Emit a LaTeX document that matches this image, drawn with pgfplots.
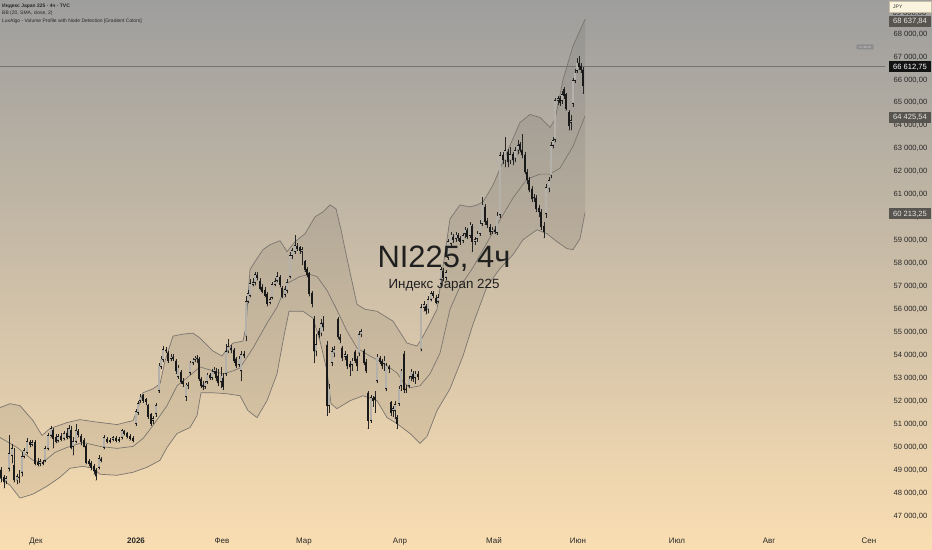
\documentclass[border=0pt]{standalone}
\usepackage{fontspec}
\setmainfont{Liberation Sans}
\usepackage{pgfplots}
\pgfplotsset{compat=1.18}
\usepackage{pgfplotstable}
\definecolor{bgtop}{RGB}{158,158,157}
\definecolor{bgbot}{RGB}{250,222,178}
\definecolor{bandline}{RGB}{122,117,110}
\definecolor{upfill}{RGB}{180,176,170}
\definecolor{tagbox}{RGB}{88,85,80}
\definecolor{txt}{RGB}{40,40,40}

\pgfplotstableread{
x o h l c
1 48991 49121 48471 48645
4 48688 48774 48212 48471
6 48515 48731 48385 48645
9 49078 50507 48948 49727
12 49640 50117 49294 49944
14 49207 49944 48471 48558
17 48558 48818 48385 48731
19 48688 48991 48428 48645
22 48904 49770 48731 49597
24 49597 49944 49511 49857
27 49770 50377 49684 50247
30 50203 50290 49987 50117
32 50117 50290 50030 50203
35 50203 50290 49207 49294
38 49337 49511 49164 49251
40 49294 49467 49164 49381
43 49337 49424 49207 49294
45 49424 50030 49337 49944
48 49944 50636 49857 50507
51 50507 50940 50420 50810
53 50723 50853 49944 50377
56 50420 50550 50160 50247
58 50290 50593 50203 50463
61 50463 50636 50247 50333
64 50377 50723 50290 50593
67 50593 50853 50333 50420
69 50463 50983 50377 50810
71 50723 50940 49900 49987
73 50030 50420 49640 50247
76 50247 51026 50160 50723
78 50680 50810 50420 50550
81 50463 50550 50074 50247
84 50290 50377 49987 50030
86 50030 50117 49251 49337
89 49381 49467 49164 49294
91 49294 49381 48991 49121
94 49164 49251 48818 48948
96 48991 49078 48558 48731
99 49121 49640 49034 49511
101 49467 49554 49337 49424
104 49987 50507 49900 50420
107 50333 50420 50160 50247
110 50247 50377 50160 50290
113 50333 50463 50247 50420
116 50377 50463 50203 50290
119 50290 50420 50203 50333
122 50420 50810 50333 50723
124 50680 50766 50507 50593
127 50593 50680 50377 50463
130 50463 50550 50290 50377
133 50377 50463 50203 50290
136 51026 51676 50940 51546
138 51502 52022 51416 51892
140 52022 52325 51935 52195
143 52239 52325 51935 52022
146 52065 52152 51849 51979
148 51806 51892 51242 51329
151 51416 51502 50940 51026
153 51156 51373 51026 51242
156 51459 51935 51329 51806
159 52455 53667 52369 53538
161 53494 53971 53408 53840
163 53797 54404 53711 54274
166 54230 54360 54100 54187
168 54100 54187 53667 53754
171 53840 54057 53754 53927
173 53927 54057 53754 53840
176 53754 53840 53191 53321
178 53061 53581 52975 53451
181 53278 53364 52758 52845
183 52888 53018 52628 52758
186 52195 52801 52022 52715
188 52715 52845 52542 52672
190 53234 53754 53148 53667
193 53667 53884 53581 53797
195 53797 53971 53711 53884
197 53884 54014 53667 53840
199 53840 53927 52888 52975
201 52975 53061 52585 52672
203 52715 52888 52498 52628
205 52628 52888 52542 52801
207 52845 53234 52758 53148
210 53148 53234 52931 53018
212 53018 53408 52931 53278
214 53278 53494 53191 53364
216 53321 53451 52888 53018
218 53105 53408 52672 52801
221 52845 53494 52585 53105
223 53018 53234 52498 52628
226 53191 54490 53105 54187
228 54187 54706 54100 54404
231 54317 54447 54100 54230
234 54230 54317 53667 53754
236 53840 53927 53451 53538
239 53581 53971 53494 53840
241 53321 54187 52888 54057
244 54057 54187 53884 53971
246 54837 56569 54620 56352
248 56352 56829 56265 56699
250 56612 57305 56525 57131
253 57088 57348 57002 57175
255 57175 57651 57045 57521
257 57478 57608 57261 57392
260 57218 57348 56828 56915
262 56958 57088 56699 56785
265 56828 56958 56525 56612
267 56655 56742 56135 56265
270 56309 56525 56222 56439
272 56525 57175 56439 57088
275 57088 57348 57002 57218
277 57261 57651 57175 57435
280 57392 57478 56958 57088
282 56915 57002 56482 56569
285 56655 57002 56525 56872
287 56828 57305 56699 57175
290 57435 58517 57348 58344
292 58344 58690 58214 58560
295 58517 59253 58430 58777
297 58734 58907 58560 58647
300 58690 58777 58430 58560
302 58517 58734 57954 58604
305 58084 58171 57651 57738
307 57738 57868 57392 57521
309 57565 57651 56569 56699
312 56699 56785 56092 56265
314 55573 55703 53667 54187
316 54187 54923 53971 54490
319 55053 55183 54750 54880
321 54966 55573 54836 55399
323 55399 55703 55053 55226
327 54447 54620 51373 51806
329 51806 52758 51502 52542
332 53667 54360 53538 54187
334 54100 54404 53927 54274
338 55573 55659 54706 54793
340 54793 54923 54533 54663
342 54317 54404 53754 53884
345 53927 54187 53797 54057
347 53971 54057 53408 53538
350 53624 53754 53105 53494
352 53581 53884 53321 53754
355 54144 54230 53667 53754
357 53840 53971 53321 53538
359 54100 55053 53971 54923
361 54923 55139 54793 55053
364 54187 54274 53581 53667
366 53711 53840 53234 53321
368 52369 52455 50810 51156
371 51156 52282 51069 52152
373 52109 52239 51762 52022
375 52195 52455 51502 52065
377 52888 54057 52801 53927
380 53884 53971 53624 53711
382 53754 53840 53408 53538
384 53624 53971 53321 53754
386 52542 53667 52455 53538
389 53494 53581 53234 53408
391 51935 52022 51373 51502
393 51589 51806 51329 51676
395 51589 52022 51242 51849
397 51286 51416 50810 51026
399 51892 52672 51806 52542
401 52672 53408 52455 53321
404 54057 54187 52369 52498
406 52542 52715 52369 52498
409 52672 53105 52585 52975
411 53061 53408 52888 53278
413 53191 53321 52845 52975
415 53018 53321 52758 53191
418 53191 53321 52931 53061
421 54274 56222 54187 56092
424 56092 56352 55919 56222
426 56135 56222 55789 55919
428 56006 56569 55832 56439
431 56439 56785 56352 56699
433 56699 56785 56482 56612
436 56482 56612 56222 56309
438 56352 56655 56265 56525
441 57131 57868 57002 57738
443 57651 57824 57218 57392
446 57392 57738 57261 57608
448 58257 59080 58171 58950
451 58863 59383 58734 59253
453 59166 59296 58907 59036
456 59080 59383 58950 59253
458 59210 59340 58993 59123
460 59080 59210 58820 58950
463 58993 59340 58907 59210
465 59296 59600 59123 59470
467 59470 59556 59080 59166
470 59210 59816 59123 59686
472 59643 59729 58517 58950
475 58950 59166 58820 59036
477 59080 59426 58950 59296
480 59296 59902 59210 59729
482 59729 60899 59643 60552
485 60465 60595 59686 59816
487 59859 59989 59556 59686
490 59599 59729 59253 59383
492 59383 59599 59296 59470
495 59470 59643 59296 59383
497 59340 60249 59253 60076
500 60119 62847 59989 62717
503 62717 62847 62327 62501
505 62501 63496 62197 62934
508 62847 62977 62197 62414
510 62501 63064 62327 62761
513 62761 62847 62284 62501
515 62587 63064 62414 62934
518 62934 63366 62761 63150
520 63193 63280 62847 62934
522 62934 63626 62587 62717
525 62717 62847 61894 61981
527 61981 62111 61462 61635
529 61635 61765 61115 61202
532 61245 61375 60682 60812
534 60855 61029 60682 60899
536 60855 60985 60249 60379
539 60422 60552 60033 60249
541 60249 60379 59470 59600
544 59643 59816 59123 59383
546 60162 61462 59989 61331
549 61288 61765 61115 61635
551 61851 63280 61721 63150
553 63150 63496 63020 63366
555 63410 65229 63280 65099
558 65099 65315 64925 65186
560 65186 65315 64882 65012
562 65099 65532 64969 65359
564 65575 65705 65186 65315
566 65359 65445 64666 64752
569 64579 64709 63800 64016
571 64146 64449 63800 64233
573 64969 66095 64839 65965
575 65965 66484 65878 66311
577 66398 66960 66311 66744
579 66744 67047 66441 66571
581 66614 66744 66311 66441
583 66441 66571 65402 65748
}\candles

\pgfplotstableread{
x p
0 51719
10 51892
20 51806
33 51156
42 50507
50 50810
67 51069
80 51199
93 51113
117 50983
133 51156
137 51589
143 52369
153 52542
160 52758
165 53754
173 54836
183 54923
193 54966
200 54750
213 54187
222 53971
227 54274
233 54533
243 54620
246 55270
250 57738
257 58214
263 58604
270 58820
280 58993
287 58517
295 58950
305 59296
315 60033
323 60249
330 60552
336 60379
341 59470
347 58214
357 56222
365 56006
377 55919
393 55486
407 54533
417 54404
422 54750
430 55399
437 56006
443 57868
450 59946
460 60552
470 60465
477 60552
483 60682
493 61418
507 62847
520 64146
530 64492
540 64362
550 63930
555 64276
563 66008
573 67480
585 68638
}\bbup

\pgfplotstableread{
x p
0 50420
17 49987
33 49424
43 49337
55 49770
67 49987
83 50203
100 50031
117 49944
133 50031
143 50377
153 50940
167 51806
177 52672
187 53018
200 53494
213 53321
223 53191
233 53321
240 53451
253 54317
267 55399
277 56092
287 57131
300 57435
310 57521
317 57435
327 56828
337 55963
347 55053
357 54317
370 53971
383 53667
397 53234
403 52845
410 52585
420 52672
430 53191
440 54100
450 56006
460 56995
473 57824
487 58907
500 59902
513 60855
527 61678
540 61895
550 61895
560 62154
573 63107
585 64426
}\bbmid

\pgfplotstableread{
x p
0 48645
10 48341
20 47779
33 47952
47 48298
60 48688
70 49078
83 49164
93 49078
100 48818
117 48774
133 48904
147 49121
160 49424
167 49987
177 50593
190 50853
197 51373
201 52369
213 52369
227 52325
240 52239
248 51589
257 51286
267 52022
277 53191
283 54620
289 55919
303 55919
313 55616
320 54620
327 53321
331 51892
337 51676
350 52022
363 52239
377 52022
387 51286
397 51026
410 50593
420 50160
427 50463
437 51589
450 52542
463 53971
473 55356
487 57002
500 57781
513 58387
523 59037
537 59470
547 59296
557 58950
567 58647
573 58604
580 59080
585 60213
}\bblo

% band area: upper band forward, lower band backward
\pgfplotstableread{
x p
0 51719
10 51892
20 51806
33 51156
42 50507
50 50810
67 51069
80 51199
93 51113
117 50983
133 51156
137 51589
143 52369
153 52542
160 52758
165 53754
173 54836
183 54923
193 54966
200 54750
213 54187
222 53971
227 54274
233 54533
243 54620
246 55270
250 57738
257 58214
263 58604
270 58820
280 58993
287 58517
295 58950
305 59296
315 60033
323 60249
330 60552
336 60379
341 59470
347 58214
357 56222
365 56006
377 55919
393 55486
407 54533
417 54404
422 54750
430 55399
437 56006
443 57868
450 59946
460 60552
470 60465
477 60552
483 60682
493 61418
507 62847
520 64146
530 64492
540 64362
550 63930
555 64276
563 66008
573 67480
585 68638
585 60213
580 59080
573 58604
567 58647
557 58950
547 59296
537 59470
523 59037
513 58387
500 57781
487 57002
473 55356
463 53971
450 52542
437 51589
427 50463
420 50160
410 50593
397 51026
387 51286
377 52022
363 52239
350 52022
337 51676
331 51892
327 53321
320 54620
313 55616
303 55919
289 55919
283 54620
277 53191
267 52022
257 51286
248 51589
240 52239
227 52325
213 52369
201 52369
197 51373
190 50853
177 50593
167 49987
160 49424
147 49121
133 48904
117 48774
100 48818
93 49078
83 49164
70 49078
60 48688
47 48298
33 47952
20 47779
10 48341
0 48645
}\bbarea

\begin{document}
\begin{tikzpicture}[x=1bp,y=1bp]
\useasboundingbox (0,0) rectangle (932,550);
\shade[top color=bgtop, bottom color=bgbot] (0,0) rectangle (932,550);
\begin{axis}[
  at={(0bp,550bp)}, anchor=north west,
  width=885bp, height=527bp, scale only axis,
  xmin=0, xmax=885, ymin=46520, ymax=69481,
  axis line style={draw=none},
  major tick length=0pt,
  ytick={47000,48000,...,68000},
  yticklabels={{47 000,00},{48 000,00},{49 000,00},{50 000,00},{51 000,00},{52 000,00},{53 000,00},{54 000,00},{55 000,00},{56 000,00},{57 000,00},{58 000,00},{59 000,00},{60 000,00},{61 000,00},{62 000,00},{63 000,00},{64 000,00},{65 000,00},{66 000,00},{67 000,00},{68 000,00}},
  yticklabel pos=right,
  yticklabel style={anchor=west, xshift=5bp, font=\fontsize{7.6}{9}\selectfont, text=txt},
  xtick={36,136,222,304,400,494,578,677,769,869},
  xticklabels={Дек,\textbf{2026},Фев,Мар,Апр,Май,Июн,Июл,Авг,Сен},
  xticklabel style={anchor=base, yshift=-17bp, font=\fontsize{8}{9.6}\selectfont, text=txt},
]
\addplot[fill=black, fill opacity=0.065, draw=none] table[x=x,y=p] {\bbarea} -- cycle;
\addplot[color=bandline, line width=0.7bp] table[x=x,y=p] {\bbup};
\addplot[color=bandline, line width=0.7bp] table[x=x,y=p] {\bblo};
\addplot[color=bandline, line width=0.7bp] table[x=x,y=p] {\bbmid};
\addplot[color=black!55, line width=0.5bp] coordinates {(0,66612.75) (885,66612.75)};
% wicks
\addplot[only marks, mark=*, mark size=0.01bp, color=black!85, error bars/.cd, y dir=plus, y explicit, error mark=none,
  error bar style={line width=0.6bp, color=black!85}]
  table[x=x, y=l, y error expr=\thisrow{h}-\thisrow{l}] {\candles};
% bodies
\addplot[only marks, mark=*, mark size=0.01bp, color=black!90, error bars/.cd, y dir=plus, y explicit, error mark=none,
  error bar style={line width=2.3bp, color=black!90}]
  table[x=x, y expr={min(\thisrow{o},\thisrow{c})-10}, y error expr={abs(\thisrow{c}-\thisrow{o})+20}] {\candles};
% hollow up bodies
\addplot[only marks, mark=*, mark size=0.01bp, color=black!90, error bars/.cd, y dir=plus, y explicit, error mark=none,
  error bar style={line width=1.3bp, color=upfill}]
  table[x=x, y expr=\thisrow{o}+22, y error expr={max(\thisrow{c}-\thisrow{o}-44,0)}] {\candles};
\end{axis}
% partly hidden 69 000 label
\node[anchor=west, font=\fontsize{7.6}{9}\selectfont, text=txt, inner sep=0] at (892.5,537) {69 000,00};
% watermark
\node[anchor=base, font=\fontsize{31}{31}\selectfont, text=black!88, inner sep=0] at (444,282) {NI225, 4ч};
\node[anchor=base, font=\fontsize{13.4}{14}\selectfont, text=black!88, inner sep=0] at (444,261) {Индекс Japan 225};
% legend
\node[anchor=base west, font=\fontsize{5}{6}\selectfont\bfseries, text=txt, inner sep=0] at (2,542.5) {Индекс Japan 225 · 4ч · TVC};
\node[anchor=base west, font=\fontsize{5}{6}\selectfont, text=txt, inner sep=0] at (2,535) {BB (20, SMA, close, 2)};
\node[anchor=base west, font=\fontsize{5}{6}\selectfont, text=txt, inner sep=0] at (2,527.5) {LuxAlgo - Volume Profile with Node Detection [Gradient Colors]};
% price tags
\node[fill={rgb,255:red,250;green,243;blue,222}, draw={rgb,255:red,200;green,190;blue,165}, line width=0.3bp, minimum width=42bp, minimum height=11bp, inner sep=0] at (910,543.5) {};
\node[anchor=west, font=\fontsize{5}{6}\selectfont, text=txt, inner sep=0] at (893,543.5) {JPY};
\node[fill=tagbox, text=white!90!black, minimum width=42bp, minimum height=11bp, inner sep=0, font=\fontsize{7.6}{9}\selectfont] at (910,528.5) {68 637,84};
\node[fill={rgb,255:red,19;green,19;blue,19}, text=white, minimum width=42bp, minimum height=11bp, inner sep=0, font=\fontsize{7.6}{9}\selectfont] at (910,483) {66 612,75};
\node[fill=tagbox, text=white!90!black, minimum width=42bp, minimum height=11bp, inner sep=0, font=\fontsize{7.6}{9}\selectfont] at (910,432.5) {64 425,54};
\node[fill=tagbox, text=white!90!black, minimum width=42bp, minimum height=11bp, inner sep=0, font=\fontsize{7.6}{9}\selectfont] at (910,336) {60 213,25};
\node[fill=black!45, text=white!85!black, rounded corners=0.5bp, minimum width=17bp, minimum height=5bp, inner sep=0.5bp, font=\fontsize{3}{3.5}\selectfont] at (865,503) {57:48:19};
\end{tikzpicture}
\end{document}
